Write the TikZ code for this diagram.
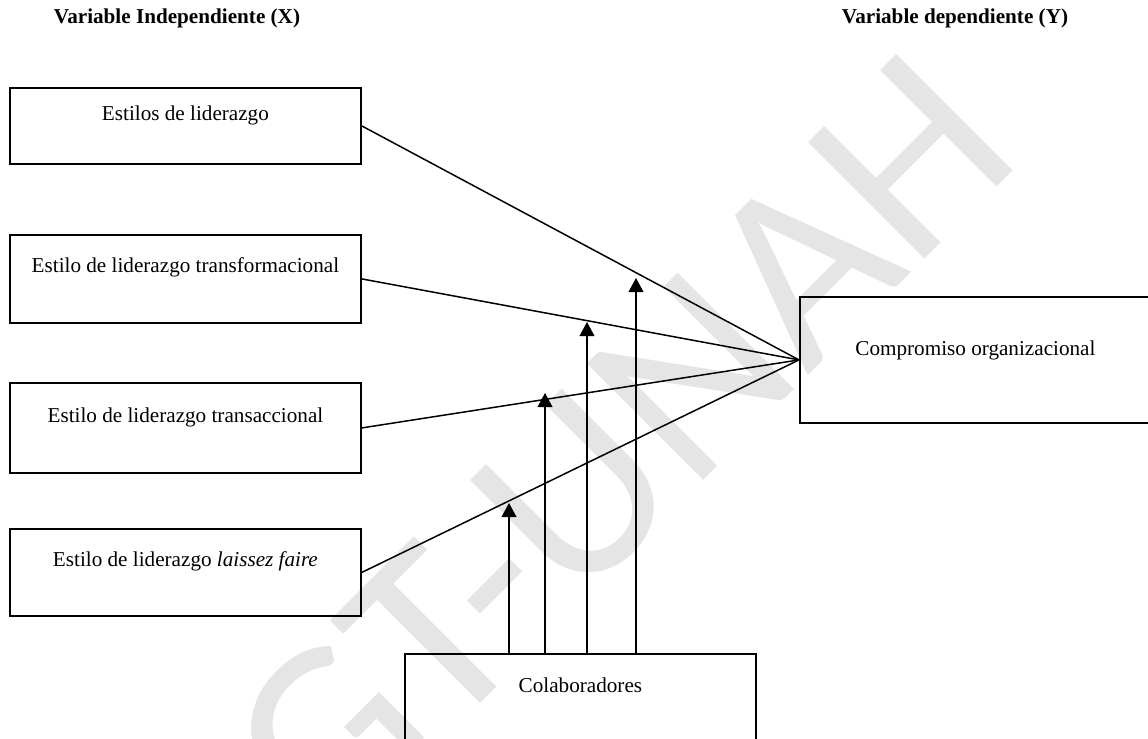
\documentclass[tikz,border=0pt]{standalone}
\usepackage{fontspec}
\setmainfont{Liberation Serif}
\newfontfamily\marcafont{Carlito}
\usetikzlibrary{arrows.meta,calc,positioning}
\tikzstyle{caja}=[draw,line width=1.1pt,inner sep=0pt,minimum width=210.6pt,anchor=north west,font=\fontsize{12.7}{15}\selectfont]
\tikzstyle{titulo}=[font=\fontsize{12.7}{15}\selectfont\bfseries]
\tikzstyle{enlace}=[draw,line width=0.9pt]
\tikzstyle{flecha}=[draw,line width=0.7pt,-{Triangle[width=9pt,length=8.5pt]}]
\tikzstyle{marca}=[rotate=45,anchor=base east,inner sep=0pt,text=black!10,font=\marcafont\fontsize{154}{154}\selectfont]

\begin{document}
\begin{tikzpicture}[x=0.6pt,y=-0.6pt]
   \useasboundingbox (0,0) rectangle (1148,738);

   \node[marca] (gt) at (1026,158) {GT-UNAH};

   \node[titulo] (vx) at (177,18) {Variable Independiente (X)};
   \node[titulo] (vy) at (955,18) {Variable dependiente (Y)};

   \foreach \pos/\name/\h/\d/\txt in {{(9,87)/e1/19.8pt/25.8pt/Estilos de liderazgo},
        {(9,234)/e2/22.8pt/30pt/Estilo de liderazgo transformacional},
        {(9,382)/e3/24pt/30pt/Estilo de liderazgo transaccional},
        {(9,528)/e4/22.8pt/29.4pt/Estilo de liderazgo \textit{laissez faire}}}
        \node[caja,text height=\h,text depth=\d] (\name) at \pos {\txt};

   \node[caja,text height=35.4pt,text depth=40.2pt] (y) at (799,296) {Compromiso organizacional};
   \node[caja,text height=23.4pt,text depth=42pt] (col) at (404,653) {Colaboradores};

   % lines to the dependent variable
   \foreach \name in {e1,e2,e3,e4}
        \path[enlace] (\name.east) -- (y.west);

   % arrows from Colaboradores
   \coordinate (p1) at (509,503);
   \coordinate (p2) at (545,393);
   \coordinate (p3) at (587,322);
   \coordinate (p4) at (636,278);
   \foreach \p in {p1,p2,p3,p4}
        \path[flecha] (col.north -| \p) -- (\p);

\end{tikzpicture}
\end{document}
